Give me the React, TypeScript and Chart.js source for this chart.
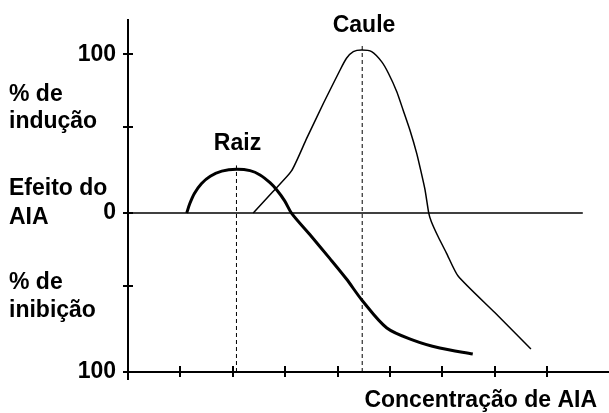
import React, { useEffect, useRef } from "react";
import { Chart, registerables } from "chart.js";

Chart.register(...registerables);

// Raiz (root) response curve
const raizX = [1.12, 1.18, 1.27, 1.4, 1.57, 1.79, 2.07, 2.33, 2.52, 2.71, 2.84, 2.99, 3.12, 3.47, 3.85, 4.17, 4.47, 4.94, 5.44, 5.95, 6.58];
const raizY = [0, 6, 12.5, 18.5, 23.2, 26.4, 27.6, 26.7, 24, 19.1, 14.5, 7.7, 0, -13.5, -28.5, -41.5, -55, -72.3, -79.9, -84.9, -88.7];

// Caule (stem) response curve
const cauleX = [2.39, 2.75, 3.12, 3.41, 3.73, 4.05, 4.17, 4.3, 4.46, 4.65, 4.84, 4.97, 5.13, 5.25, 5.38, 5.51, 5.6, 5.67, 5.74, 5.79, 5.92, 6.08, 6.3, 7.0, 7.69];
const cauleY = [0, 13, 26.5, 47, 69.1, 90.2, 97.4, 101.6, 102.6, 101.6, 95.3, 88, 76.4, 64.9, 52.3, 37.6, 25, 14.5, 0, -5.4, -14.9, -25.3, -39.6, -62.6, -85.5];

// Optimum markers (dashed verticals): x, top value
const optimaX = [2.07, 4.47];
const optimaTop = [30, 105.8];

// Zero reference line extent
const zeroLineX = [0, 8.68];

// Axis ticks
const xTickValues = [1, 2, 3, 4, 5, 6, 7, 8];
const yTickValues = [-100, -46, 0, 54, 100];
const yTickLabels = ["100", "", "0", "", "100"];

// Left side captions: text and baseline
const sideTexts = ["% de", "indução", "Efeito do", "AIA", "% de", "inibição"];
const sideBaselines = [101, 128, 195, 224, 289, 317];

const FONT = "bold 23px 'Liberation Sans', Arial, sans-serif";

const pts = (xs: number[], ys: number[]) => xs.map((x, i) => ({ x, y: ys[i] }));

const decorPlugin = {
  id: "decor",
  afterDraw(chart: any) {
    const { ctx, chartArea, scales } = chart;
    const xs = scales.x;
    const ys = scales.y;
    ctx.save();
    ctx.strokeStyle = "#000";
    ctx.lineWidth = 2;
    ctx.beginPath();
    yTickValues.forEach((v) => {
      const py = Math.round(ys.getPixelForValue(v));
      ctx.moveTo(chartArea.left - 5, py);
      ctx.lineTo(chartArea.left + 5, py);
    });
    xTickValues.forEach((v) => {
      const px = Math.round(xs.getPixelForValue(v));
      ctx.moveTo(px, chartArea.bottom - 6);
      ctx.lineTo(px, chartArea.bottom + 5);
    });
    ctx.moveTo(chartArea.left, chartArea.bottom);
    ctx.lineTo(chartArea.left, chartArea.bottom + 8);
    ctx.stroke();

    ctx.fillStyle = "#000";
    ctx.font = FONT;
    ctx.textBaseline = "alphabetic";
    ctx.textAlign = "left";
    sideTexts.forEach((t, i) => ctx.fillText(t, 9, sideBaselines[i]));
    ctx.textAlign = "center";
    ctx.fillText("Caule", 364, 32);
    ctx.fillText("Raiz", 237.5, 150);
    ctx.textAlign = "right";
    ctx.fillText("Concentração de AIA", 597, 407);
    ctx.restore();
  },
};

export default function App() {
  const ref = useRef<HTMLCanvasElement | null>(null);
  useEffect(() => {
    if (!ref.current) return;
    const chart = new Chart(ref.current, {
      type: "line",
      data: {
        datasets: [
          {
            data: zeroLineX.map((x) => ({ x, y: 0 })),
            borderColor: "#000",
            borderWidth: 1.5,
            pointRadius: 0,
          },
          ...optimaX.map((x, i) => ({
            data: [
              { x, y: -100 },
              { x, y: optimaTop[i] },
            ],
            borderColor: "#000",
            borderWidth: 1,
            borderDash: [4, 3],
            pointRadius: 0,
          })),
          {
            data: pts(cauleX, cauleY),
            borderColor: "#000",
            borderWidth: 1.5,
            pointRadius: 0,
            tension: 0.2,
          },
          {
            data: pts(raizX, raizY),
            borderColor: "#000",
            borderWidth: 3,
            pointRadius: 0,
            tension: 0.3,
          },
        ] as any,
      },
      options: {
        animation: false,
        responsive: false,
        devicePixelRatio: 1,
        layout: { padding: { top: 20, right: 0, left: 0, bottom: 0 } },
        plugins: { legend: { display: false }, tooltip: { enabled: false } },
        scales: {
          x: {
            type: "linear",
            min: 0,
            max: 9.18,
            ticks: { display: false },
            grid: { display: false, drawTicks: false },
            border: { display: true, color: "#000", width: 2 },
            afterFit: (s: any) => {
              s.height = 41;
              s.paddingLeft = 0;
              s.paddingRight = 0;
            },
          },
          y: {
            type: "linear",
            min: -100,
            max: 121.5,
            afterBuildTicks: (s: any) => {
              s.ticks = yTickValues.map((v) => ({ value: v }));
            },
            ticks: {
              autoSkip: false,
              padding: 12,
              color: "#000",
              font: { family: "'Liberation Sans', Arial, sans-serif", size: 23, weight: "bold" },
              callback: (v: any) => {
                const i = yTickValues.indexOf(Number(v));
                return i >= 0 ? yTickLabels[i] : "";
              },
            },
            grid: { display: false, drawTicks: false },
            border: { display: true, color: "#000", width: 2 },
            afterFit: (s: any) => {
              s.width = 128;
              s.paddingTop = 0;
              s.paddingBottom = 0;
            },
          },
        },
      },
      plugins: [decorPlugin],
    });
    return () => chart.destroy();
  }, []);
  return (
    <div style={{ position: "fixed", left: 0, top: 0, width: 609, height: 413, background: "#fff" }}>
      <canvas ref={ref} width={609} height={413} style={{ width: 609, height: 413, display: "block" }} />
    </div>
  );
}
